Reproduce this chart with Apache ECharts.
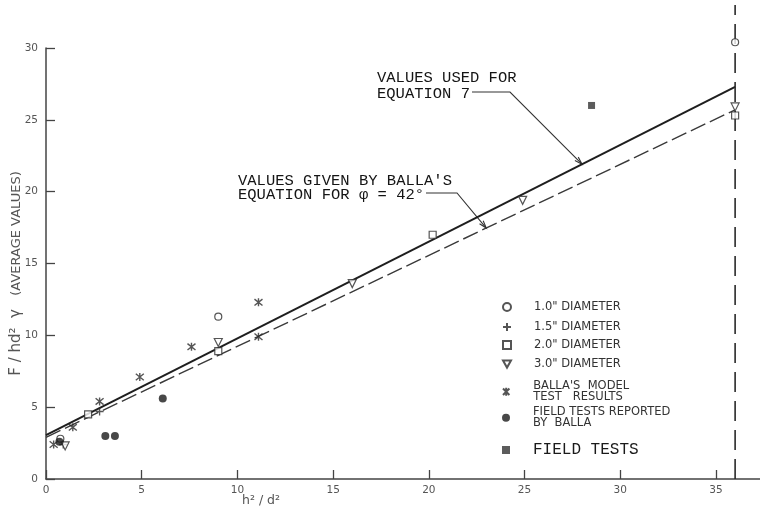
<!DOCTYPE html>
<html>
<head>
<meta charset="utf-8">
<script src="https://cdn.jsdelivr.net/npm/echarts@6/dist/echarts.min.js"></script>
<style>
  html, body { margin: 0; padding: 0; background: #ffffff; }
  #chart { width: 760px; height: 516px; }
</style>
</head>
<body>
<div id="chart"></div>
<script>
// Axis ticks
const xTickValues = [0, 5, 10, 15, 20, 25, 30, 35];

// Test points: [h^2/d^2, F/hd^2 gamma]
const dia10 = [[0.75, 2.8], [9.0, 11.3], [36.0, 30.4]];
const dia15 = [[2.8, 4.7], [0.9, 2.4]];
const dia20 = [[2.2, 4.5], [9.0, 8.9], [20.2, 17.0], [36.0, 25.3]];
const dia30 = [[1.0, 2.3], [9.0, 9.5], [16.0, 13.6], [24.9, 19.4], [36.0, 25.9]];
const ballaModel = [[0.4, 2.4], [1.4, 3.6], [2.8, 5.4], [4.9, 7.1], [7.6, 9.2], [11.1, 12.3], [11.1, 9.9]];
const ballaField = [[0.7, 2.6], [3.1, 3.0], [3.6, 3.0], [6.1, 5.6]];
const fieldTests = [[28.5, 26.0]];

// Design lines
const eq7Line = [[0, 3.05], [36, 27.3]];
const ballaLine = [[0, 2.9], [36, 25.7]];
const limitLine = [[36, 0], [36, 33.0]];

// Legend labels
const names = {
  d10: '1.0" DIAMETER',
  d15: '1.5" DIAMETER',
  d20: '2.0" DIAMETER',
  d30: '3.0" DIAMETER',
  model: "BALLA'S  MODEL\nTEST   RESULTS",
  bfield: 'FIELD TESTS REPORTED\nBY  BALLA',
  field: 'FIELD TESTS'
};

const INK = '#2b2b2b';
const PLUS = 'path://M5,0V10M0,5H10';
const STAR = 'path://M5,0V10M1,1L9,9M9,1L1,9';
const TRI_DOWN = 'path://M0,0H10L5,9Z';

const sans = 'DejaVu Sans';
const mono = 'Liberation Mono';

function lineAt(line, x) {
  const [p0, p1] = line;
  return p0[1] + (p1[1] - p0[1]) * (x - p0[0]) / (p1[0] - p0[0]);
}

function legendAt(name, top, extra) {
  return Object.assign({
    data: [name],
    left: 502,
    top: top,
    orient: 'vertical',
    padding: 0,
    itemWidth: 8,
    itemHeight: 8,
    selectedMode: false,
    textStyle: {
      fontFamily: sans, fontSize: 11.5, color: '#333',
      lineHeight: 11.5, padding: [0, 0, 0, 18]
    }
  }, extra || {});
}

const chart = echarts.init(document.getElementById('chart'), null, { renderer: 'canvas' });

const option = {
  backgroundColor: '#ffffff',
  animation: false,
  grid: { left: 46, right: 0, top: 48, bottom: 37, containLabel: false, outerBoundsMode: 'none' },
  xAxis: {
    type: 'value', min: 0, max: 37.3, interval: 5,
    axisLine: { lineStyle: { color: '#444', width: 1.5 } },
    axisTick: { inside: true, length: 9, customValues: xTickValues, lineStyle: { color: '#444', width: 1.3 } },
    axisLabel: { customValues: xTickValues, margin: 6, fontFamily: sans, fontSize: 10.5, color: '#555' },
    splitLine: { show: false }
  },
  yAxis: {
    type: 'value', min: 0, max: 30, interval: 5,
    name: '{a|F / hd²  γ}    {b|(AVERAGE VALUES)}{c|}',
    nameLocation: 'middle', nameGap: 22, nameRotate: 90, nameMoveOverlap: false,
    nameTextStyle: {
      color: '#555',
      rich: {
        a: { fontFamily: sans, fontSize: 15, color: '#555' },
        b: { fontFamily: sans, fontSize: 13, color: '#555' },
        c: { width: 20 }
      }
    },
    axisLine: { lineStyle: { color: '#444', width: 1.5 } },
    axisTick: { inside: true, length: 9, lineStyle: { color: '#444', width: 1.3 } },
    axisLabel: { margin: 8, fontFamily: sans, fontSize: 10.5, color: '#555' },
    splitLine: { show: false }
  },
  legend: [
    legendAt(names.d10, 301),
    legendAt(names.d15, 321),
    legendAt(names.d20, 339),
    legendAt(names.d30, 358),
    legendAt(names.model, 380),
    legendAt(names.bfield, 406),
    legendAt(names.field, 442, {
      textStyle: { fontFamily: mono, fontSize: 16, color: '#1a1a1a', lineHeight: 16, padding: [0, 0, 0, 18] }
    })
  ],
  series: [
    {
      type: 'line', data: eq7Line, symbol: 'none', silent: true,
      lineStyle: { color: '#1e1e1e', width: 2 }, z: 2
    },
    {
      type: 'line', data: ballaLine, symbol: 'none', silent: true,
      lineStyle: { color: '#3a3a3a', width: 1.4, type: [16, 5] }, z: 2
    },
    {
      type: 'line', data: limitLine, symbol: 'none', silent: true, clip: false,
      lineStyle: { color: '#2a2a2a', width: 1.6, type: [20, 9] }, z: 2
    },
    {
      name: names.d10, type: 'scatter', data: dia10, clip: false,
      symbol: 'circle', symbolSize: 7,
      itemStyle: { color: '#ffffff', borderColor: INK, borderWidth: 1.2 }, z: 5
    },
    {
      name: names.d15, type: 'scatter', data: dia15,
      symbol: PLUS, symbolSize: 8,
      itemStyle: { color: 'transparent', borderColor: INK, borderWidth: 1.3 }, z: 5
    },
    {
      name: names.d20, type: 'scatter', data: dia20,
      symbol: 'rect', symbolSize: 7,
      itemStyle: { color: '#ffffff', borderColor: INK, borderWidth: 1.2 }, z: 5
    },
    {
      name: names.d30, type: 'scatter', data: dia30,
      symbol: TRI_DOWN, symbolSize: [8, 8],
      itemStyle: { color: '#ffffff', borderColor: INK, borderWidth: 1.2 }, z: 5
    },
    {
      name: names.model, type: 'scatter', data: ballaModel,
      symbol: STAR, symbolSize: 8,
      itemStyle: { color: 'transparent', borderColor: INK, borderWidth: 1.4 }, z: 5
    },
    {
      name: names.bfield, type: 'scatter', data: ballaField,
      symbol: 'circle', symbolSize: 8,
      itemStyle: { color: '#1a1a1a' }, z: 5
    },
    {
      name: names.field, type: 'scatter', data: fieldTests,
      symbol: 'rect', symbolSize: 7,
      itemStyle: { color: '#333333' }, z: 5
    }
  ]
};

chart.setOption(option);

// Leader lines with arrowheads pointing at the two design lines
function arrowHead(from, tip, len, spread) {
  const dx = tip[0] - from[0], dy = tip[1] - from[1];
  const d = Math.hypot(dx, dy);
  const ux = dx / d, uy = dy / d;
  const c = Math.cos(spread), s = Math.sin(spread);
  const a = [tip[0] - len * (ux * c - uy * s), tip[1] - len * (uy * c + ux * s)];
  const b = [tip[0] - len * (ux * c + uy * s), tip[1] - len * (uy * c - ux * s)];
  return [a, tip, b];
}

const eq7Tip = chart.convertToPixel({ gridIndex: 0 }, [28, lineAt(eq7Line, 28)]);
const ballaTip = chart.convertToPixel({ gridIndex: 0 }, [23, lineAt(ballaLine, 23)]);
const eq7Elbow = [510, 92];
const ballaElbow = [457, 193];

const leaderStyle = { stroke: '#333', lineWidth: 1.1, fill: null };

chart.setOption({
  graphic: [
    {
      type: 'text', left: 377, top: 70, silent: true,
      style: { text: 'VALUES USED FOR\nEQUATION 7', font: '15.5px "Liberation Mono"', fill: '#151515', lineHeight: 15.5 }
    },
    {
      type: 'polyline', silent: true,
      shape: { points: [[472, 92], eq7Elbow, eq7Tip] }, style: leaderStyle
    },
    {
      type: 'polyline', silent: true,
      shape: { points: arrowHead(eq7Elbow, eq7Tip, 8, 0.3) }, style: leaderStyle
    },
    {
      type: 'text', left: 238, top: 173, silent: true,
      style: { text: "VALUES GIVEN BY BALLA'S\nEQUATION FOR φ = 42°", font: '15.5px "Liberation Mono"', fill: '#151515', lineHeight: 14 }
    },
    {
      type: 'polyline', silent: true,
      shape: { points: [[426, 193], ballaElbow, ballaTip] }, style: leaderStyle
    },
    {
      type: 'polyline', silent: true,
      shape: { points: arrowHead(ballaElbow, ballaTip, 8, 0.3) }, style: leaderStyle
    },
    {
      type: 'text', left: 242, top: 494, silent: true,
      style: { text: 'h² / d²', font: '12.5px "DejaVu Sans"', fill: '#555' }
    }
  ]
});
</script>
</body>
</html>
